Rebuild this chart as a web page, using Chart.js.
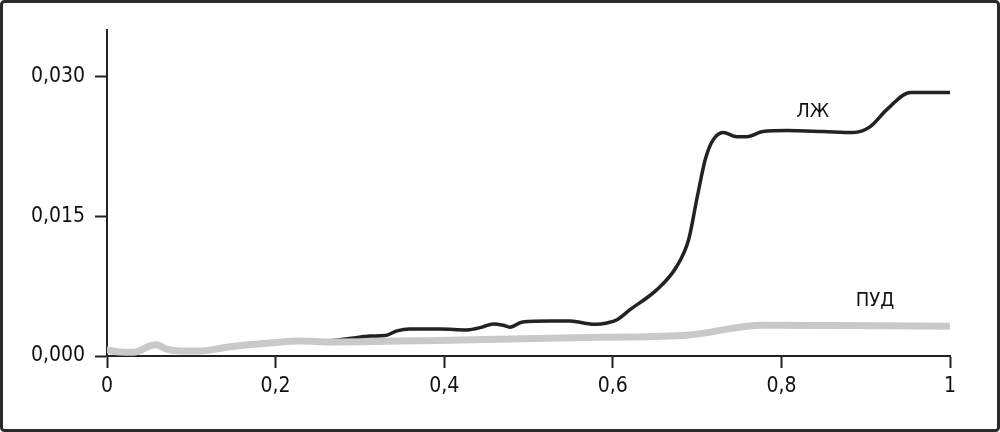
<!DOCTYPE html>
<html>
<head>
<meta charset="utf-8">
<script src="https://cdn.jsdelivr.net/npm/chart.js@4.4.1/dist/chart.umd.min.js"></script>
<style>
  html, body { margin: 0; padding: 0; background: #fff; }
  #wrap { width: 1000px; height: 432px; position: relative; }
</style>
</head>
<body>
<div id="wrap"><canvas id="chart" width="1000" height="432"></canvas></div>
<script>
// values
const lvX = [0.262, 0.290, 0.312, 0.330, 0.344, 0.359, 0.395, 0.427, 0.445, 0.458, 0.470, 0.478, 0.493, 0.525, 0.549, 0.565, 0.580, 0.593, 0.605, 0.620, 0.652, 0.675, 0.690, 0.700, 0.710, 0.719, 0.731, 0.747, 0.759, 0.778, 0.807, 0.850, 0.885, 0.905, 0.925, 0.953, 1.0];
const lvY = [0.0016, 0.0019, 0.00215, 0.0022, 0.0027, 0.0029, 0.0029, 0.0028, 0.0031, 0.00344, 0.0033, 0.0031, 0.00366, 0.00376, 0.00376, 0.00355, 0.0034, 0.00355, 0.0039, 0.00495, 0.0071, 0.0095, 0.0125, 0.0170, 0.0212, 0.0232, 0.0240, 0.02355, 0.02355, 0.0241, 0.0242, 0.0241, 0.0240, 0.0246, 0.02645, 0.0283, 0.0283];

const pudX = [0, 0.015, 0.032, 0.051, 0.059, 0.069, 0.087, 0.11, 0.146, 0.193, 0.229, 0.265, 0.407, 0.585, 0.69, 0.778, 0.997];
const pudY = [0.00065, 0.00043, 0.0004, 0.00108, 0.0012, 0.0008, 0.00054, 0.00054, 0.0010, 0.0014, 0.0016, 0.0015, 0.0017, 0.0020, 0.00226, 0.0033, 0.0032];

const xTicks = [0, 0.2, 0.4, 0.6, 0.8, 1];
const yTicks = [0, 0.015, 0.030];

const seriesLabels = [
    { text: 'ЛЖ', x: 0.837, y: 0.0262 },
    { text: 'ПУД', x: 0.911, y: 0.0059 }
];

const FONT = "'Liberation Sans Narrow', 'DejaVu Sans Condensed', 'Liberation Sans', sans-serif";

const toPoints = (xs, ys) => xs.map((x, i) => ({ x: x, y: ys[i] }));

const framePlugin = {
    id: 'frame',
    beforeDraw(chart) {
        const ctx = chart.ctx;
        ctx.save();
        ctx.fillStyle = '#fff';
        ctx.fillRect(0, 0, chart.width, chart.height);
        ctx.strokeStyle = '#2a2a2a';
        ctx.lineWidth = 3;
        ctx.beginPath();
        ctx.roundRect(1.5, 1.5, chart.width - 3, chart.height - 3, 3);
        ctx.stroke();
        ctx.restore();
    },
    afterDatasetsDraw(chart) {
        const ctx = chart.ctx;
        const xs = chart.scales.x, ys = chart.scales.y;
        ctx.save();
        ctx.fillStyle = '#111';
        ctx.font = '20px ' + FONT;
        ctx.textAlign = 'center';
        ctx.textBaseline = 'middle';
        seriesLabels.forEach(l => {
            ctx.fillText(l.text, xs.getPixelForValue(l.x), ys.getPixelForValue(l.y));
        });
        ctx.restore();
    }
};

new Chart(document.getElementById('chart'), {
    type: 'line',
    data: {
        datasets: [{
            label: 'ПУД',
            data: toPoints(pudX, pudY),
            borderColor: '#c9c9c9',
            borderWidth: 7,
            borderCapStyle: 'round',
            pointRadius: 0,
            cubicInterpolationMode: 'monotone'
        }, {
            label: 'ЛЖ',
            data: toPoints(lvX, lvY),
            borderColor: '#222',
            borderWidth: 3.5,
            pointRadius: 0,
            cubicInterpolationMode: 'monotone'
        }]
    },
    options: {
        responsive: false,
        animation: false,
        events: [],
        layout: { padding: { top: 30, right: 50, left: 0, bottom: 0 } },
        plugins: {
            legend: { display: false },
            tooltip: { enabled: false }
        },
        scales: {
            x: {
                type: 'linear',
                min: 0,
                max: 1,
                afterBuildTicks: s => { s.ticks = xTicks.map(v => ({ value: v })); },
                afterFit: s => { s.height = 76; },
                grid: {
                    drawOnChartArea: false,
                    drawTicks: true,
                    tickLength: 12,
                    tickWidth: 2,
                    tickColor: '#222'
                },
                border: { display: true, color: '#222', width: 2 },
                ticks: {
                    color: '#111',
                    padding: 6,
                    maxRotation: 0,
                    font: { family: FONT, size: 21 },
                    callback: v => String(v).replace('.', ',')
                }
            },
            y: {
                type: 'linear',
                min: 0,
                max: 0.035,
                afterBuildTicks: s => { s.ticks = yTicks.map(v => ({ value: v })); },
                afterFit: s => { s.width = 107; },
                grid: {
                    drawOnChartArea: false,
                    drawTicks: true,
                    tickLength: 12,
                    tickWidth: 2,
                    tickColor: '#222'
                },
                border: { display: true, color: '#222', width: 2 },
                ticks: {
                    color: '#111',
                    padding: 10,
                    font: { family: FONT, size: 21 },
                    callback: v => v.toFixed(3).replace('.', ',')
                }
            }
        }
    },
    plugins: [framePlugin]
});
</script>
</body>
</html>
